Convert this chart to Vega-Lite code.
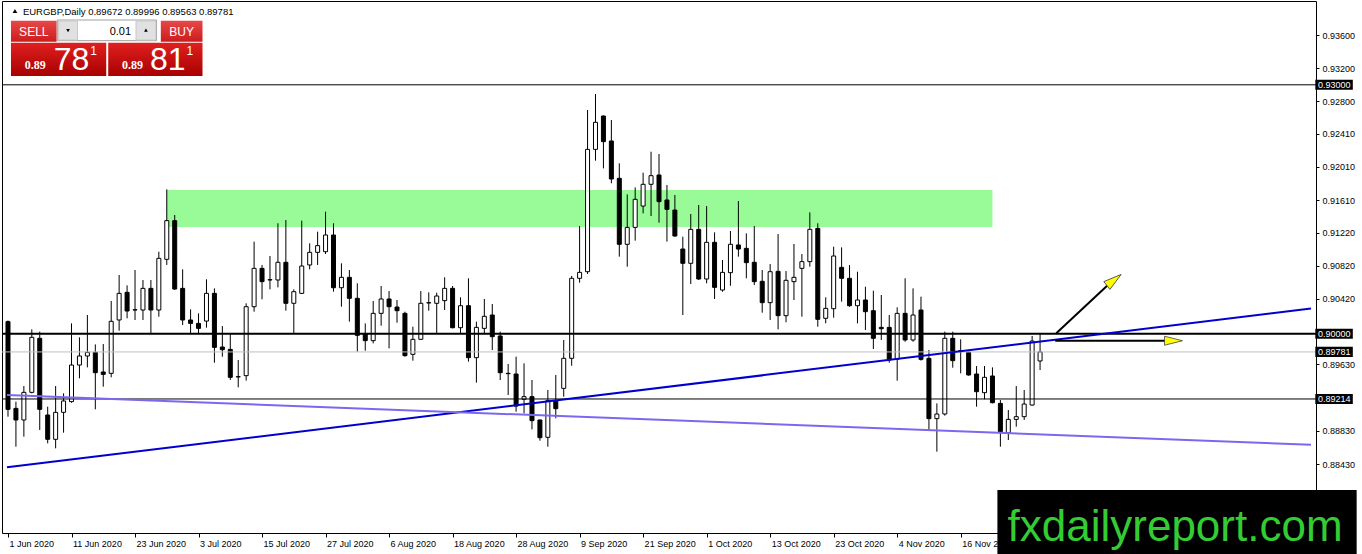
{
  "$schema": "https://vega.github.io/schema/vega-lite/v6.json",
  "width": 1314,
  "height": 532,
  "autosize": {"type": "none"},
  "padding": {"left": 2, "top": 1, "right": 46, "bottom": 21},
  "background": "white",
  "config": {
    "view": {"stroke": "black", "strokeWidth": 1},
    "font": "Liberation Sans"
  },
  "datasets": {
    "candles": [
      {"i":0,"o":0.90146,"h":0.90160,"l":0.89001,"c":0.89089},
      {"i":1,"o":0.89101,"h":0.89182,"l":0.88639,"c":0.88961},
      {"i":2,"o":0.88961,"h":0.89370,"l":0.88760,"c":0.89294},
      {"i":3,"o":0.89294,"h":0.90053,"l":0.89282,"c":0.89957},
      {"i":4,"o":0.89945,"h":0.90025,"l":0.88840,"c":0.89089},
      {"i":5,"o":0.89021,"h":0.89121,"l":0.88679,"c":0.88728},
      {"i":6,"o":0.88728,"h":0.89370,"l":0.88619,"c":0.89053},
      {"i":7,"o":0.89053,"h":0.89282,"l":0.88808,"c":0.89190},
      {"i":8,"o":0.89182,"h":0.90125,"l":0.89169,"c":0.89623},
      {"i":9,"o":0.89623,"h":0.89957,"l":0.89463,"c":0.89732},
      {"i":10,"o":0.89732,"h":0.90226,"l":0.89595,"c":0.89776},
      {"i":11,"o":0.89776,"h":0.89872,"l":0.89089,"c":0.89531},
      {"i":12,"o":0.89539,"h":0.89876,"l":0.89362,"c":0.89511},
      {"i":13,"o":0.89523,"h":0.90395,"l":0.89475,"c":0.90150},
      {"i":14,"o":0.90166,"h":0.90708,"l":0.90037,"c":0.90487},
      {"i":15,"o":0.90499,"h":0.90583,"l":0.90186,"c":0.90274},
      {"i":16,"o":0.90286,"h":0.90768,"l":0.90166,"c":0.90290},
      {"i":17,"o":0.90286,"h":0.90648,"l":0.90166,"c":0.90547},
      {"i":18,"o":0.90547,"h":0.90648,"l":0.90001,"c":0.90286},
      {"i":19,"o":0.90286,"h":0.90989,"l":0.90206,"c":0.90909},
      {"i":20,"o":0.90897,"h":0.91740,"l":0.90829,"c":0.91363},
      {"i":21,"o":0.91363,"h":0.91431,"l":0.90527,"c":0.90539},
      {"i":22,"o":0.90547,"h":0.90776,"l":0.90105,"c":0.90166},
      {"i":23,"o":0.90166,"h":0.90294,"l":0.90001,"c":0.90125},
      {"i":24,"o":0.90125,"h":0.90246,"l":0.90001,"c":0.90065},
      {"i":25,"o":0.90153,"h":0.90656,"l":0.90073,"c":0.90487},
      {"i":26,"o":0.90487,"h":0.90547,"l":0.89651,"c":0.89836},
      {"i":27,"o":0.89840,"h":0.90093,"l":0.89724,"c":0.89808},
      {"i":28,"o":0.89812,"h":0.89997,"l":0.89443,"c":0.89475},
      {"i":29,"o":0.89483,"h":0.89684,"l":0.89354,"c":0.89480},
      {"i":30,"o":0.89495,"h":0.90367,"l":0.89435,"c":0.90326},
      {"i":31,"o":0.90326,"h":0.91110,"l":0.90266,"c":0.90788},
      {"i":32,"o":0.90788,"h":0.90829,"l":0.90415,"c":0.90628},
      {"i":33,"o":0.90648,"h":0.90937,"l":0.90535,"c":0.90652},
      {"i":34,"o":0.90648,"h":0.91331,"l":0.90559,"c":0.90861},
      {"i":35,"o":0.90861,"h":0.91371,"l":0.90278,"c":0.90367},
      {"i":36,"o":0.90367,"h":0.90535,"l":0.90001,"c":0.90507},
      {"i":37,"o":0.90487,"h":0.91363,"l":0.90479,"c":0.90816},
      {"i":38,"o":0.90829,"h":0.91090,"l":0.90776,"c":0.90981},
      {"i":39,"o":0.90981,"h":0.91230,"l":0.90829,"c":0.91062},
      {"i":40,"o":0.90989,"h":0.91471,"l":0.90961,"c":0.91190},
      {"i":41,"o":0.91190,"h":0.91331,"l":0.90507,"c":0.90555},
      {"i":42,"o":0.90555,"h":0.90849,"l":0.90326,"c":0.90680},
      {"i":43,"o":0.90680,"h":0.90768,"l":0.90146,"c":0.90427},
      {"i":44,"o":0.90427,"h":0.90608,"l":0.89784,"c":0.89981},
      {"i":45,"o":0.89997,"h":0.90125,"l":0.89796,"c":0.89917},
      {"i":46,"o":0.89917,"h":0.90395,"l":0.89884,"c":0.90246},
      {"i":47,"o":0.90246,"h":0.90575,"l":0.90097,"c":0.90419},
      {"i":48,"o":0.90419,"h":0.90515,"l":0.89824,"c":0.90326},
      {"i":49,"o":0.90322,"h":0.90407,"l":0.90133,"c":0.90278},
      {"i":50,"o":0.90246,"h":0.90266,"l":0.89724,"c":0.89736},
      {"i":51,"o":0.89752,"h":0.90085,"l":0.89676,"c":0.89933},
      {"i":52,"o":0.89933,"h":0.90515,"l":0.89925,"c":0.90367},
      {"i":53,"o":0.90371,"h":0.90499,"l":0.90278,"c":0.90375},
      {"i":54,"o":0.90367,"h":0.90495,"l":0.90001,"c":0.90455},
      {"i":55,"o":0.90399,"h":0.90680,"l":0.90286,"c":0.90547},
      {"i":56,"o":0.90547,"h":0.90575,"l":0.90065,"c":0.90073},
      {"i":57,"o":0.90073,"h":0.90439,"l":0.90001,"c":0.90338},
      {"i":58,"o":0.90338,"h":0.90668,"l":0.89664,"c":0.89712},
      {"i":59,"o":0.89712,"h":0.90146,"l":0.89411,"c":0.90077},
      {"i":60,"o":0.90065,"h":0.90419,"l":0.90005,"c":0.90210},
      {"i":61,"o":0.90226,"h":0.90359,"l":0.89804,"c":0.89965},
      {"i":62,"o":0.89973,"h":0.90025,"l":0.89443,"c":0.89531},
      {"i":63,"o":0.89523,"h":0.89635,"l":0.89262,"c":0.89519},
      {"i":64,"o":0.89515,"h":0.89724,"l":0.89061,"c":0.89129},
      {"i":65,"o":0.89210,"h":0.89643,"l":0.89041,"c":0.89242},
      {"i":66,"o":0.89242,"h":0.89443,"l":0.88848,"c":0.88953},
      {"i":67,"o":0.88961,"h":0.88965,"l":0.88711,"c":0.88748},
      {"i":68,"o":0.88752,"h":0.89322,"l":0.88639,"c":0.89194},
      {"i":69,"o":0.89194,"h":0.89503,"l":0.88981,"c":0.89097},
      {"i":70,"o":0.89342,"h":0.89925,"l":0.89242,"c":0.89704},
      {"i":71,"o":0.89704,"h":0.90696,"l":0.89615,"c":0.90668},
      {"i":72,"o":0.90668,"h":0.91298,"l":0.90616,"c":0.90740},
      {"i":73,"o":0.90748,"h":0.92696,"l":0.90720,"c":0.92222},
      {"i":74,"o":0.92222,"h":0.92889,"l":0.92086,"c":0.92548},
      {"i":75,"o":0.92624,"h":0.92630,"l":0.91993,"c":0.92315},
      {"i":76,"o":0.92323,"h":0.92576,"l":0.91813,"c":0.91865},
      {"i":77,"o":0.91873,"h":0.92054,"l":0.90929,"c":0.91078},
      {"i":78,"o":0.91078,"h":0.91680,"l":0.90808,"c":0.91282},
      {"i":79,"o":0.91282,"h":0.91764,"l":0.91122,"c":0.91620},
      {"i":80,"o":0.91539,"h":0.91941,"l":0.91451,"c":0.91801},
      {"i":81,"o":0.91801,"h":0.92194,"l":0.91419,"c":0.91905},
      {"i":82,"o":0.91913,"h":0.92166,"l":0.91339,"c":0.91592},
      {"i":83,"o":0.91612,"h":0.91793,"l":0.91110,"c":0.91499},
      {"i":84,"o":0.91491,"h":0.91672,"l":0.91170,"c":0.91178},
      {"i":85,"o":0.91021,"h":0.91170,"l":0.90226,"c":0.90849},
      {"i":86,"o":0.90849,"h":0.91443,"l":0.90600,"c":0.91258},
      {"i":87,"o":0.91258,"h":0.91552,"l":0.90648,"c":0.90660},
      {"i":88,"o":0.90660,"h":0.91539,"l":0.90608,"c":0.91102},
      {"i":89,"o":0.91102,"h":0.91222,"l":0.90419,"c":0.90559},
      {"i":90,"o":0.90527,"h":0.90889,"l":0.90507,"c":0.90740},
      {"i":91,"o":0.90736,"h":0.91238,"l":0.90579,"c":0.91078},
      {"i":92,"o":0.91070,"h":0.91600,"l":0.90929,"c":0.91021},
      {"i":93,"o":0.91029,"h":0.91210,"l":0.90668,"c":0.90857},
      {"i":94,"o":0.90861,"h":0.91298,"l":0.90587,"c":0.90628},
      {"i":95,"o":0.90632,"h":0.90768,"l":0.90254,"c":0.90375},
      {"i":96,"o":0.90375,"h":0.90840,"l":0.90166,"c":0.90748},
      {"i":97,"o":0.90752,"h":0.91202,"l":0.90053,"c":0.90218},
      {"i":98,"o":0.90218,"h":0.90756,"l":0.90138,"c":0.90644},
      {"i":99,"o":0.90628,"h":0.91082,"l":0.90407,"c":0.90680},
      {"i":100,"o":0.90788,"h":0.90961,"l":0.90206,"c":0.90869},
      {"i":101,"o":0.90869,"h":0.91463,"l":0.90808,"c":0.91258},
      {"i":102,"o":0.91270,"h":0.91331,"l":0.90085,"c":0.90174},
      {"i":103,"o":0.90186,"h":0.90439,"l":0.90126,"c":0.90306},
      {"i":104,"o":0.90302,"h":0.91049,"l":0.90194,"c":0.90937},
      {"i":105,"o":0.90800,"h":0.91041,"l":0.90387,"c":0.90668},
      {"i":106,"o":0.90668,"h":0.90828,"l":0.90326,"c":0.90338},
      {"i":107,"o":0.90338,"h":0.90748,"l":0.90125,"c":0.90407},
      {"i":108,"o":0.90407,"h":0.90567,"l":0.90045,"c":0.90266},
      {"i":109,"o":0.90278,"h":0.90519,"l":0.89816,"c":0.89945},
      {"i":110,"o":0.90077,"h":0.90467,"l":0.89925,"c":0.90061},
      {"i":111,"o":0.90077,"h":0.90226,"l":0.89651,"c":0.89684},
      {"i":112,"o":0.89692,"h":0.90318,"l":0.89435,"c":0.90246},
      {"i":113,"o":0.90246,"h":0.90668,"l":0.89904,"c":0.89925},
      {"i":114,"o":0.89925,"h":0.90547,"l":0.89904,"c":0.90226},
      {"i":115,"o":0.90286,"h":0.90447,"l":0.89676,"c":0.89692},
      {"i":116,"o":0.89704,"h":0.89804,"l":0.88840,"c":0.88977},
      {"i":117,"o":0.88977,"h":0.89161,"l":0.88579,"c":0.89033},
      {"i":118,"o":0.89033,"h":0.90025,"l":0.89013,"c":0.89945},
      {"i":119,"o":0.89945,"h":0.90025,"l":0.89591,"c":0.89676},
      {"i":120,"o":0.89796,"h":0.89933,"l":0.89523,"c":0.89784},
      {"i":121,"o":0.89776,"h":0.89784,"l":0.89495,"c":0.89503},
      {"i":122,"o":0.89515,"h":0.89611,"l":0.89121,"c":0.89302},
      {"i":123,"o":0.89290,"h":0.89611,"l":0.89210,"c":0.89475},
      {"i":124,"o":0.89491,"h":0.89595,"l":0.89161,"c":0.89169},
      {"i":125,"o":0.89161,"h":0.89202,"l":0.88639,"c":0.88820},
      {"i":126,"o":0.88808,"h":0.89081,"l":0.88719,"c":0.88968},
      {"i":127,"o":0.88968,"h":0.89370,"l":0.88880,"c":0.89001},
      {"i":128,"o":0.89001,"h":0.89322,"l":0.88961,"c":0.89153},
      {"i":129,"o":0.89141,"h":0.89973,"l":0.89133,"c":0.89912},
      {"i":130,"o":0.89672,"h":0.89996,"l":0.89563,"c":0.89781}
    ]
  },
  "layer": [
    {
      "data": {"values": [{"i": 20, "i2": 124, "top": 0.91732, "bottom": 0.91286}]},
      "mark": {"type": "rect", "color": "#98fb98"},
      "encoding": {
        "x": {
          "field": "i",
          "type": "quantitative",
          "scale": {"domain": [-0.125, 164.125], "nice": false, "zero": false},
          "axis": {
            "values": [0, 8, 16, 24, 32, 40, 48, 56, 64, 72, 80, 88, 96, 104, 112, 120],
            "labelExpr": "['1 Jun 2020','11 Jun 2020','23 Jun 2020','3 Jul 2020','15 Jul 2020','27 Jul 2020','6 Aug 2020','18 Aug 2020','28 Aug 2020','9 Sep 2020','21 Sep 2020','1 Oct 2020','13 Oct 2020','23 Oct 2020','4 Nov 2020','16 Nov 2020'][round(datum.value / 8)]",
            "title": null,
            "domain": false,
            "grid": false,
            "tickSize": 4,
            "tickColor": "black",
            "labelAlign": "left",
            "labelOffset": 1,
            "labelPadding": 2,
            "labelFlush": false,
            "labelOverlap": false,
            "labelFont": "Liberation Sans",
            "labelFontSize": 9,
            "labelColor": "black"
          }
        },
        "x2": {"field": "i2"},
        "y": {
          "field": "top",
          "type": "quantitative",
          "scale": {"domain": [0.87599, 0.9401], "nice": false, "zero": false},
          "axis": {
            "orient": "right",
            "values": [0.936, 0.932, 0.928, 0.9241, 0.9201, 0.9161, 0.9122, 0.9082, 0.9042, 0.8963, 0.8883, 0.8843],
            "format": ".5f",
            "title": null,
            "domain": false,
            "grid": false,
            "tickSize": 3,
            "tickColor": "black",
            "labelPadding": 3,
            "labelFlush": false,
            "labelOverlap": false,
            "labelBaseline": "middle",
            "labelFont": "Liberation Sans",
            "labelFontSize": 9,
            "labelColor": "black"
          }
        },
        "y2": {"field": "bottom"}
      }
    },
    {
      "data": {"name": "candles"},
      "mark": {"type": "rule", "color": "black", "strokeWidth": 1},
      "encoding": {
        "x": {"field": "i", "type": "quantitative", "title": null},
        "y": {"field": "l", "type": "quantitative", "title": null},
        "y2": {"field": "h"}
      }
    },
    {
      "data": {"name": "candles"},
      "mark": {"type": "bar", "width": 4, "stroke": "black", "strokeWidth": 1},
      "encoding": {
        "x": {"field": "i", "type": "quantitative", "title": null},
        "y": {"field": "o", "type": "quantitative", "title": null},
        "y2": {"field": "c"},
        "fill": {"condition": {"test": "datum.c > datum.o", "value": "white"}, "value": "black"}
      }
    },
    {
      "data": {"values": [{"p": 0.93}, {"p": 0.89214}]},
      "mark": {"type": "rule", "color": "black", "strokeWidth": 1},
      "encoding": {"y": {"field": "p", "type": "quantitative", "title": null}}
    },
    {
      "data": {"values": [{"p": 0.89781}]},
      "mark": {"type": "rule", "color": "#c0c0c0", "strokeWidth": 1},
      "encoding": {"y": {"field": "p", "type": "quantitative", "title": null}}
    },
    {
      "data": {"values": [{"p": 0.9}]},
      "mark": {"type": "rule", "color": "black", "strokeWidth": 2},
      "encoding": {"y": {"field": "p", "type": "quantitative", "title": null}}
    },
    {
      "data": {
        "values": [
          {"name": "rising", "i": -0.125, "p": 0.88391},
          {"name": "rising", "i": 164.125, "p": 0.90304},
          {"name": "falling", "i": -0.125, "p": 0.89262},
          {"name": "falling", "i": 164.125, "p": 0.88663}
        ]
      },
      "mark": {"type": "line", "strokeWidth": 2},
      "encoding": {
        "x": {"field": "i", "type": "quantitative", "title": null},
        "y": {"field": "p", "type": "quantitative", "title": null},
        "color": {
          "field": "name",
          "type": "nominal",
          "scale": {"domain": ["rising", "falling"], "range": ["#0000cd", "#7b68ee"]},
          "legend": null
        }
      }
    },
    {
      "data": {
        "values": [
          {"i": 132.04, "p": 0.90005, "i2": 138.75, "p2": 0.90606},
          {"i": 131.91, "p": 0.89916, "i2": 145.875, "p2": 0.89916}
        ]
      },
      "mark": {"type": "rule", "color": "black", "strokeWidth": 2},
      "encoding": {
        "x": {"field": "i", "type": "quantitative", "title": null},
        "y": {"field": "p", "type": "quantitative", "title": null},
        "x2": {"field": "i2"},
        "y2": {"field": "p2"}
      }
    },
    {
      "data": {"values": [{"i": 139.31, "p": 0.90648}]},
      "mark": {"type": "point", "shape": "M0,-1L0.55,1L-0.55,1Z", "size": 324, "angle": 52, "filled": true, "fill": "#ffff00", "stroke": "#404040", "strokeWidth": 0.8, "opacity": 1},
      "encoding": {
        "x": {"field": "i", "type": "quantitative", "title": null},
        "y": {"field": "p", "type": "quantitative", "title": null}
      }
    },
    {
      "data": {"values": [{"i": 146.81, "p": 0.89916}]},
      "mark": {"type": "point", "shape": "M0,-1L0.5,1L-0.5,1Z", "size": 324, "angle": 90, "filled": true, "fill": "#ffff00", "stroke": "#404040", "strokeWidth": 0.8, "opacity": 1},
      "encoding": {
        "x": {"field": "i", "type": "quantitative", "title": null},
        "y": {"field": "p", "type": "quantitative", "title": null}
      }
    },
    {
      "data": {"values": [{"p": 0.93}, {"p": 0.9}, {"p": 0.89781}, {"p": 0.89214}]},
      "mark": {"type": "point", "shape": "M-1,-0.27L1,-0.27L1,0.27L-1,0.27Z", "size": 1406, "filled": true, "color": "black", "opacity": 1},
      "encoding": {
        "x": {"datum": 167.03, "type": "quantitative", "title": null},
        "y": {"field": "p", "type": "quantitative", "title": null}
      }
    },
    {
      "data": {"values": [{"p": 0.93}, {"p": 0.9}, {"p": 0.89781}, {"p": 0.89214}]},
      "mark": {"type": "text", "align": "left", "baseline": "middle", "font": "Liberation Sans", "fontSize": 9, "color": "white"},
      "encoding": {
        "x": {"datum": 165, "type": "quantitative", "title": null},
        "y": {"field": "p", "type": "quantitative", "title": null},
        "text": {"field": "p", "type": "quantitative", "format": ".5f"}
      }
    },
    {
      "data": {"values": [{"i": 0.875, "p": 0.93889}]},
      "mark": {"type": "point", "shape": "triangle-up", "size": 22, "filled": true, "color": "black", "opacity": 1},
      "encoding": {
        "x": {"field": "i", "type": "quantitative", "title": null},
        "y": {"field": "p", "type": "quantitative", "title": null}
      }
    },
    {
      "data": {"values": [{"i": 1.875, "p": 0.93847, "t": "EURGBP,Daily  0.89672 0.89996 0.89563 0.89781"}]},
      "mark": {"type": "text", "align": "left", "baseline": "alphabetic", "font": "Liberation Sans", "fontSize": 9.5, "color": "black"},
      "encoding": {
        "x": {"field": "i", "type": "quantitative", "title": null},
        "y": {"field": "p", "type": "quantitative", "title": null},
        "text": {"field": "t"}
      }
    },
    {
      "data": {
        "values": [
          {"i": 0.375, "i2": 6.125, "top": 0.93773, "bottom": 0.93519},
          {"i": 19.25, "i2": 24.5, "top": 0.93773, "bottom": 0.93519}
        ]
      },
      "mark": {
        "type": "rect",
        "color": {
          "gradient": "linear",
          "x1": 0, "y1": 0, "x2": 0, "y2": 1,
          "stops": [{"offset": 0, "color": "#e84848"}, {"offset": 1, "color": "#cc1c1c"}]
        }
      },
      "encoding": {
        "x": {"field": "i", "type": "quantitative", "title": null},
        "x2": {"field": "i2"},
        "y": {"field": "top", "type": "quantitative", "title": null},
        "y2": {"field": "bottom"}
      }
    },
    {
      "data": {
        "values": [
          {"i": 0.375, "i2": 12.375, "top": 0.93507, "bottom": 0.93106},
          {"i": 12.625, "i2": 24.5, "top": 0.93507, "bottom": 0.93106}
        ]
      },
      "mark": {
        "type": "rect",
        "color": {
          "gradient": "linear",
          "x1": 0, "y1": 0, "x2": 0, "y2": 1,
          "stops": [{"offset": 0, "color": "#e02020"}, {"offset": 1, "color": "#a80000"}]
        }
      },
      "encoding": {
        "x": {"field": "i", "type": "quantitative", "title": null},
        "x2": {"field": "i2"},
        "y": {"field": "top", "type": "quantitative", "title": null},
        "y2": {"field": "bottom"}
      }
    },
    {
      "data": {"values": [{"i": 6.2125, "i2": 18.7125, "top": 0.93781, "bottom": 0.93532}]},
      "mark": {"type": "rect", "fill": "white", "stroke": "#a0a0a0", "strokeWidth": 1},
      "encoding": {
        "x": {"field": "i", "type": "quantitative", "title": null},
        "x2": {"field": "i2"},
        "y": {"field": "top", "type": "quantitative", "title": null},
        "y2": {"field": "bottom"}
      }
    },
    {
      "data": {
        "values": [
          {"i": 6.375, "i2": 8.75, "top": 0.93769, "bottom": 0.9354},
          {"i": 16.125, "i2": 18.625, "top": 0.93769, "bottom": 0.9354}
        ]
      },
      "mark": {"type": "rect", "fill": "#e1e1e1", "stroke": "#c8c8c8", "strokeWidth": 1},
      "encoding": {
        "x": {"field": "i", "type": "quantitative", "title": null},
        "x2": {"field": "i2"},
        "y": {"field": "top", "type": "quantitative", "title": null},
        "y2": {"field": "bottom"}
      }
    },
    {
      "data": {"values": [{"i": 7.5625, "p": 0.93654}]},
      "mark": {"type": "point", "shape": "triangle-down", "size": 14, "filled": true, "color": "black", "opacity": 1},
      "encoding": {
        "x": {"field": "i", "type": "quantitative", "title": null},
        "y": {"field": "p", "type": "quantitative", "title": null}
      }
    },
    {
      "data": {"values": [{"i": 17.375, "p": 0.9366}]},
      "mark": {"type": "point", "shape": "triangle-up", "size": 14, "filled": true, "color": "black", "opacity": 1},
      "encoding": {
        "x": {"field": "i", "type": "quantitative", "title": null},
        "y": {"field": "p", "type": "quantitative", "title": null}
      }
    },
    {
      "data": {"values": [{"i": 15.5, "p": 0.936, "t": "0.01"}]},
      "mark": {"type": "text", "align": "right", "baseline": "alphabetic", "font": "Liberation Sans", "fontSize": 11, "color": "black"},
      "encoding": {
        "x": {"field": "i", "type": "quantitative", "title": null},
        "y": {"field": "p", "type": "quantitative", "title": null},
        "text": {"field": "t"}
      }
    },
    {
      "data": {"values": [{"i": 3.25, "p": 0.93588, "t": "SELL"}, {"i": 21.875, "p": 0.93588, "t": "BUY"}]},
      "mark": {"type": "text", "align": "center", "baseline": "alphabetic", "font": "Liberation Sans", "fontSize": 12, "color": "white"},
      "encoding": {
        "x": {"field": "i", "type": "quantitative", "title": null},
        "y": {"field": "p", "type": "quantitative", "title": null},
        "text": {"field": "t"}
      }
    },
    {
      "data": {"values": [{"i": 2.125, "p": 0.9319, "t": "0.89"}, {"i": 14.375, "p": 0.9319, "t": "0.89"}]},
      "mark": {"type": "text", "align": "left", "baseline": "alphabetic", "font": "Liberation Serif", "fontWeight": "bold", "fontSize": 12, "color": "white"},
      "encoding": {
        "x": {"field": "i", "type": "quantitative", "title": null},
        "y": {"field": "p", "type": "quantitative", "title": null},
        "text": {"field": "t"}
      }
    },
    {
      "data": {"values": [{"i": 5.75, "p": 0.93178, "t": "78"}, {"i": 17.875, "p": 0.93178, "t": "81"}]},
      "mark": {"type": "text", "align": "left", "baseline": "alphabetic", "font": "Liberation Sans", "fontSize": 32, "color": "white"},
      "encoding": {
        "x": {"field": "i", "type": "quantitative", "title": null},
        "y": {"field": "p", "type": "quantitative", "title": null},
        "text": {"field": "t"}
      }
    },
    {
      "data": {"values": [{"i": 10.375, "p": 0.93359, "t": "1"}, {"i": 22.5, "p": 0.93359, "t": "1"}]},
      "mark": {"type": "text", "align": "left", "baseline": "alphabetic", "font": "Liberation Sans", "fontSize": 12, "color": "white"},
      "encoding": {
        "x": {"field": "i", "type": "quantitative", "title": null},
        "y": {"field": "p", "type": "quantitative", "title": null},
        "text": {"field": "t"}
      }
    },
    {
      "data": {"values": [{"i": 124.625, "i2": 169.875, "top": 0.88117, "bottom": 0.87346}]},
      "mark": {"type": "rect", "color": "black"},
      "encoding": {
        "x": {"field": "i", "type": "quantitative", "title": null},
        "x2": {"field": "i2"},
        "y": {"field": "top", "type": "quantitative", "title": null},
        "y2": {"field": "bottom"}
      }
    },
    {
      "data": {"values": [{"i": 147, "p": 0.87497, "t": "fxdailyreport.com"}]},
      "mark": {"type": "text", "align": "center", "baseline": "alphabetic", "font": "Liberation Sans", "fontSize": 44, "color": "#33cc33"},
      "encoding": {
        "x": {"field": "i", "type": "quantitative", "title": null},
        "y": {"field": "p", "type": "quantitative", "title": null},
        "text": {"field": "t"}
      }
    }
  ]
}
